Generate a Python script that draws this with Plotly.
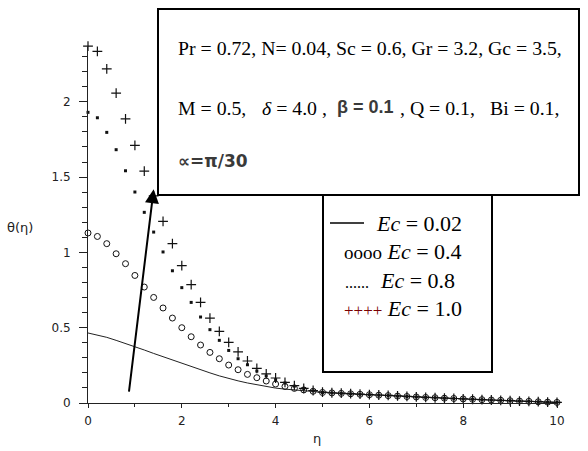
import plotly.graph_objects as go

# ---------------- data ----------------
eta = [0.0, 0.2, 0.4, 0.6, 0.8, 1.0, 1.2, 1.4, 1.6, 1.8,
       2.0, 2.2, 2.4, 2.6, 2.8, 3.0, 3.2, 3.4, 3.6, 3.8,
       4.0, 4.2, 4.4, 4.6, 4.8, 5.0, 5.2, 5.4, 5.6, 5.8,
       6.0, 6.2, 6.4, 6.6, 6.8, 7.0, 7.2, 7.4, 7.6, 7.8,
       8.0, 8.2, 8.4, 8.6, 8.8, 9.0, 9.2, 9.4, 9.6, 9.8, 10.0]

theta_ec002 = [0.465, 0.452, 0.436, 0.416, 0.396, 0.376, 0.352, 0.329, 0.307, 0.285,
               0.263, 0.244, 0.222, 0.200, 0.180, 0.162, 0.147, 0.133, 0.120, 0.108,
               0.099, 0.092, 0.086, 0.080, 0.075, 0.070, 0.066, 0.063, 0.060, 0.057,
               0.054, 0.051, 0.048, 0.045, 0.042, 0.039, 0.037, 0.034, 0.032, 0.029,
               0.027, 0.024, 0.022, 0.020, 0.017, 0.015, 0.013, 0.010, 0.008, 0.006, 0.004]

theta_ec04 = [1.129, 1.106, 1.058, 0.991, 0.925, 0.847, 0.770, 0.701, 0.631, 0.564,
              0.500, 0.440, 0.385, 0.336, 0.294, 0.252, 0.221, 0.190, 0.168, 0.146,
              0.126, 0.110, 0.097, 0.087, 0.078, 0.070, 0.067, 0.064, 0.061, 0.058,
              0.055, 0.052, 0.049, 0.046, 0.043, 0.040, 0.037, 0.035, 0.032, 0.030,
              0.027, 0.025, 0.022, 0.020, 0.018, 0.015, 0.013, 0.011, 0.008, 0.006, 0.004]

theta_ec08 = [1.930, 1.894, 1.797, 1.682, 1.542, 1.401, 1.266, 1.135, 1.003, 0.878,
              0.766, 0.668, 0.571, 0.487, 0.416, 0.349, 0.294, 0.254, 0.212, 0.180,
              0.155, 0.133, 0.112, 0.095, 0.081, 0.070, 0.067, 0.064, 0.061, 0.058,
              0.055, 0.052, 0.049, 0.046, 0.043, 0.040, 0.037, 0.035, 0.032, 0.030,
              0.027, 0.025, 0.022, 0.020, 0.018, 0.015, 0.013, 0.011, 0.008, 0.006, 0.004]

theta_ec10 = [2.370, 2.335, 2.218, 2.058, 1.886, 1.711, 1.540, 1.375, 1.206, 1.058,
              0.912, 0.786, 0.668, 0.564, 0.476, 0.402, 0.339, 0.279, 0.230, 0.193,
              0.166, 0.137, 0.115, 0.097, 0.083, 0.072, 0.068, 0.065, 0.062, 0.059,
              0.056, 0.053, 0.050, 0.047, 0.044, 0.041, 0.038, 0.035, 0.033, 0.030,
              0.028, 0.025, 0.023, 0.020, 0.018, 0.016, 0.013, 0.011, 0.009, 0.006, 0.004]

x_ticks = [0, 2, 4, 6, 8, 10]
y_ticks = [0, 0.5, 1, 1.5, 2]
y_tick_text = ["0", "0.5", "1", "1.5", "2"]

# arrow (data coords): tail -> tip
arrow_tail = (0.87, 0.066)
arrow_tip = (1.40, 1.42)

# ---------------- layout geometry ----------------
W, H = 588, 451
L, R, T, B = 88, 557, 46, 403   # plot area in pixels
PW, PH = R - L, B - T
Y_MAX = PH / 150.6


def px(x):
    return (x - L) / PW


def py(y):
    return (B - y) / PH


SERIF = "Liberation Serif"
SANS = "DejaVu Sans"

fig = go.Figure()

fig.add_trace(go.Scatter(x=eta, y=theta_ec002, mode="lines",
                         line=dict(color="#222222", width=1),
                         cliponaxis=False, showlegend=False))
fig.add_trace(go.Scatter(x=eta, y=theta_ec04, mode="markers",
                         marker=dict(symbol="circle-open", size=6, color="#111111",
                                     line=dict(width=1, color="#111111")),
                         cliponaxis=False, showlegend=False))
fig.add_trace(go.Scatter(x=eta, y=theta_ec08, mode="markers",
                         marker=dict(symbol="square", size=3, color="#111111",
                                     line=dict(width=0)),
                         cliponaxis=False, showlegend=False))
fig.add_trace(go.Scatter(x=eta, y=theta_ec10, mode="markers",
                         marker=dict(symbol="cross-thin", size=7, color="#111111",
                                     line=dict(width=1.2, color="#111111")),
                         cliponaxis=False, showlegend=False))

shapes = [
    # parameter box
    dict(type="rect", xref="paper", yref="paper",
         x0=px(158), x1=px(579), y0=py(195), y1=py(9),
         line=dict(color="black", width=2), fillcolor="white", layer="above"),
    # legend box
    dict(type="rect", xref="paper", yref="paper",
         x0=px(323), x1=px(492), y0=py(372), y1=py(195),
         line=dict(color="black", width=2), fillcolor="white", layer="above"),
    # legend solid line sample
    dict(type="line", xref="paper", yref="paper",
         x0=px(330), x1=px(364), y0=py(223), y1=py(223),
         line=dict(color="black", width=1.5), layer="above"),
]

annotations = []


def txt(x, y, s, size, family=SERIF, color="black", xanchor="left"):
    annotations.append(dict(xref="paper", yref="paper", x=px(x), y=py(y),
                            text=s, showarrow=False, xanchor=xanchor,
                            yanchor="middle",
                            font=dict(family=family, size=size, color=color)))


# parameter text
txt(176, 48, "Pr = 0.72, N= 0.04, Sc = 0.6, Gr = 3.2, Gc = 3.5,", 19.8)
txt(176, 108, "M = 0.5,", 19.8)
txt(260, 108, "<i>δ</i> = 4.0 ,", 19.8)
txt(335, 107, "<b>β = 0.1</b>", 18, family="Liberation Sans", color="#3a3a3a")
txt(398, 108, ", Q = 0.1,", 19.8)
txt(488, 108, "Bi = 0.1,", 19.8)
txt(176, 161, "<b>∝=π/30</b>", 17, family=SANS, color="#3a3a3a")

# legend text
txt(374, 223, "<i>Ec</i> = 0.02", 22)
txt(342, 252, '<span style="font-size:19px">oooo</span> <i>Ec</i> = 0.4', 22)
txt(343, 280, '<span style="font-size:16px">......&nbsp;&nbsp;&nbsp;</span><i>Ec</i> = 0.8', 22)
txt(342, 308, '<span style="font-size:17px;color:#7a0000">++++</span> <i>Ec</i> = 1.0', 22)

# axis titles
txt(20, 227, "θ(η)", 13, family=SANS, color="#222222", xanchor="center")
txt(317, 438, "η", 13, family=SANS, color="#222222", xanchor="center")

# arrow
annotations.append(dict(x=arrow_tip[0], y=arrow_tip[1], ax=arrow_tail[0], ay=arrow_tail[1],
                        xref="x", yref="y", axref="x", ayref="y", text="",
                        showarrow=True, arrowhead=2, arrowsize=1.4, arrowwidth=2,
                        arrowcolor="black"))

fig.update_layout(
    width=W, height=H,
    margin=dict(l=L, r=W - R, t=T, b=H - B, pad=0),
    paper_bgcolor="white", plot_bgcolor="white",
    showlegend=False,
    shapes=shapes, annotations=annotations,
    xaxis=dict(range=[0, 10], showgrid=False, zeroline=False,
               showline=True, linecolor="#222222", linewidth=1,
               ticks="outside", ticklen=4, tickcolor="#222222", tickwidth=1,
               tickvals=x_ticks,
               tickfont=dict(family=SANS, size=12, color="#222222"),
               minor=dict(ticks="outside", ticklen=3, dtick=1, tickcolor="#222222"),
               ticklabelstandoff=3),
    yaxis=dict(range=[0, Y_MAX], showgrid=False, zeroline=False,
               showline=True, linecolor="#222222", linewidth=1,
               ticks="outside", ticklen=8, tickcolor="#222222", tickwidth=1,
               tickvals=y_ticks, ticktext=y_tick_text,
               tickfont=dict(family=SANS, size=12, color="#222222"),
               minor=dict(ticks="outside", ticklen=5, dtick=0.1, tickcolor="#222222"),
               ticklabelstandoff=6),
)

fig.write_html("out.html", config={"displayModeBar": False},
               post_script="document.body.style.margin='0';document.body.style.overflow='hidden';")
